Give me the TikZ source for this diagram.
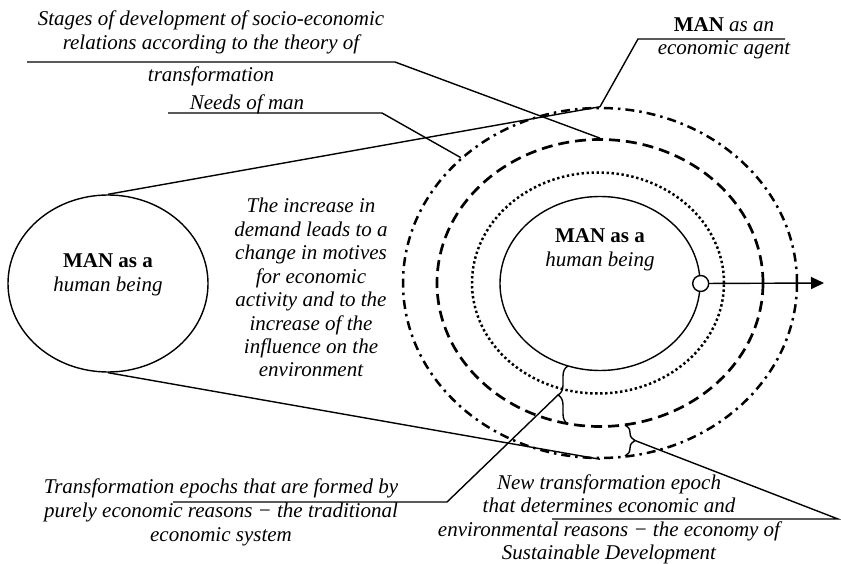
\documentclass[tikz,border=0pt]{standalone}
\usepackage{fontspec}
\setmainfont{Liberation Serif}
\usetikzlibrary{shapes.geometric,decorations.pathreplacing,arrows.meta}
\begin{document}
\begin{tikzpicture}[x=1pt,y=-1pt,
  lbl/.style={anchor=base,inner sep=0pt,font=\fontsize{21}{23.5}\selectfont\itshape},
  conn/.style={line width=1.4pt},
  oval/.style={ellipse,draw,inner sep=0pt,line width=1.4pt},
  dashdotline/.style={line width=2.5pt,dash pattern=on 9pt off 5pt on 2.5pt off 5pt},
  dashline/.style={line width=2.7pt,dash pattern=on 11pt off 6pt},
  dotline/.style={line width=2.5pt,dash pattern=on 2.4pt off 2.6pt},
  bracel/.style={conn,decorate,decoration={brace,amplitude=10pt}},
]
\useasboundingbox (0,0) rectangle (841,564);

% ellipses
\node[oval,minimum width=200pt,minimum height=177pt] (leftman) at (108,283.5) {};
\node[ellipse,draw,inner sep=0pt,dashdotline,minimum width=394pt,minimum height=350pt] (outer) at (600,283) {};
\node[ellipse,draw,inner sep=0pt,dashline,minimum width=326pt,minimum height=287pt] (dashed) at (600,283) {};
\node[ellipse,draw,inner sep=0pt,dotline,minimum width=252pt,minimum height=221pt] (dotted) at (598,283) {};
\node[oval,minimum width=200pt,minimum height=174pt] (inner) at (600,283.5) {};

% tangent lines
\draw[conn] (leftman.north) -- (outer.north);
\draw[conn] (leftman.south) -- (outer.south);

% callout: stages
\coordinate (tlA) at (27,62);
\coordinate (tlB) at (395,62);
\draw[conn] (tlA) -- (tlB) -- (dashed.north);
\node[lbl] (tl1) at (211,26) {Stages of development of socio-economic};
\node[lbl] (tl2) at (211,50) {relations according to the theory of};
\node[lbl] (tl3) at (211,82) {transformation};

% callout: needs
\coordinate (ndA) at (168,113);
\coordinate (ndB) at (382,113);
\draw[conn] (ndA) -- (ndB) -- (outer.138.5);
\node[lbl] (nd) at (247,110) {Needs of man};

% callout: economic agent
\coordinate (maA) at (638,39);
\coordinate (maB) at (785,39);
\draw[conn] (maB) -- (maA) -- (outer.north);
\node[lbl] (ma1) at (724,32) {{\upshape\bfseries MAN} as an};
\node[lbl] (ma2) at (724,55) {economic agent};

% ellipse texts
\node[lbl] (lm1) at (108,268) {\upshape\bfseries MAN as a};
\node[lbl] (lm2) at (108,291) {human being};
\node[lbl] (im1) at (600,243) {\upshape\bfseries MAN as a};
\node[lbl] (im2) at (600,267) {human being};

% middle text
\foreach \t [count=\i] in {The increase in,demand leads to a,change in motives,for economic,activity and to the,increase of the,influence on the,environment}
  \node[lbl] (mid\i) at (311,{213+23.4*(\i-1)}) {\t};

% braces
\draw[bracel] (568,424) -- (568,366);
\draw[bracel] (625,425) -- (625,456);
\coordinate (b1tip) at (558,395);
\coordinate (b2tip) at (635,440.5);

% callout: traditional
\coordinate (llA) at (173,502);
\coordinate (llB) at (447,502);
\draw[conn] (llA) -- (llB) -- (b1tip);
\node[lbl] (ll1) at (221,493) {Transformation epochs that are formed by};
\node[lbl] (ll2) at (221,517) {purely economic reasons − the traditional};
\node[lbl] (ll3) at (221,541) {economic system};

% callout: sustainable
\coordinate (lrA) at (552,519);
\coordinate (lrB) at (838,519);
\draw[conn] (lrA) -- (lrB) -- (b2tip);
\node[lbl] (lr1) at (609,489) {New transformation epoch};
\node[lbl] (lr2) at (609,512.5) {that determines economic and};
\node[lbl] (lr3) at (609,536) {environmental reasons − the economy of};
\node[lbl] (lr4) at (609,559.5) {Sustainable Development};

% arrow
\coordinate (arrEnd) at (824,283);
\draw[conn,-{Triangle[length=13pt,width=12pt]}] (inner.east) -- (arrEnd);
\node[circle,draw,conn,fill=white,minimum size=16pt,inner sep=0pt] (dot) at (inner.east) {};
\end{tikzpicture}
\end{document}
